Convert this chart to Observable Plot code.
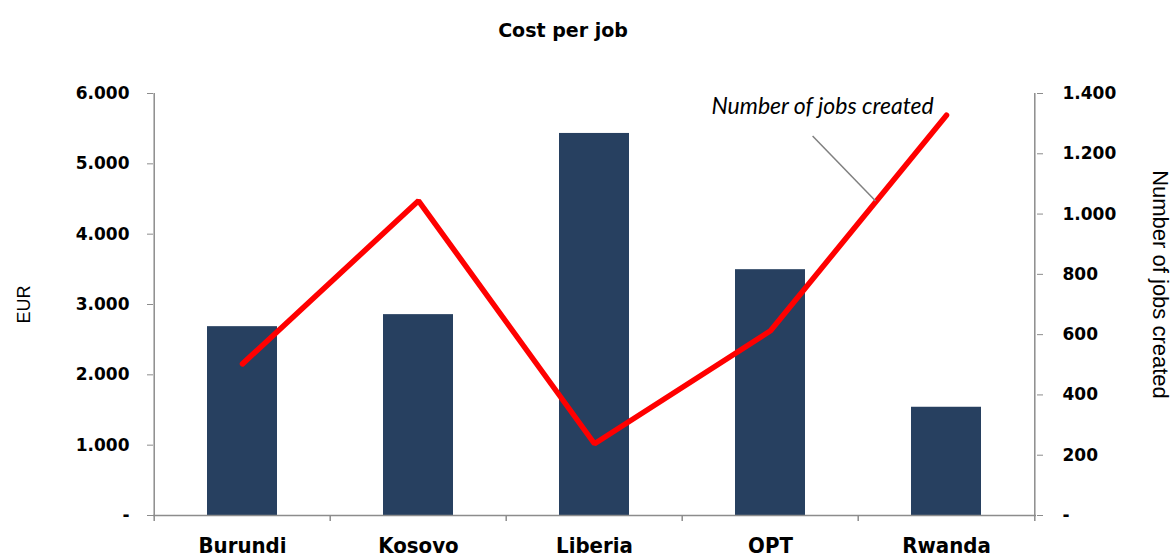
<!DOCTYPE html>
<html><head><meta charset="utf-8">
<script src="https://cdn.jsdelivr.net/npm/d3@7"></script>
<script src="https://cdn.jsdelivr.net/npm/@observablehq/plot@0.6"></script>
<style>body{margin:0;background:#fff;} #chart svg{display:block;}</style>
</head><body><div id="chart"></div>
<script>
const countries = ["Burundi", "Kosovo", "Liberia", "OPT", "Rwanda"];
const costPerJob = [2685, 2856, 5432, 3495, 1539];
const jobsCreated = [503, 1044, 238, 613, 1328];
const eurTicks = [0, 1000, 2000, 3000, 4000, 5000, 6000];
const jobTicks = [0, 200, 400, 600, 800, 1000, 1200, 1400];
const eurMax = 6000, jobsMax = 1400;
const titleText = "Cost per job";
const leftLabel = "EUR";
const rightLabel = "Number of jobs created";
const lineLabel = "Number of jobs created";

const k = eurMax / jobsMax;
const data = countries.map((c, i) => ({country: c, cost: costPerJob[i], jobs: jobsCreated[i], jobsScaled: jobsCreated[i] * k}));

const loc = d3.formatLocale({decimal: ",", thousands: ".", grouping: [3], currency: ["", ""]});
const f = loc.format(",.0f");
const fmt = v => Math.round(v) === 0 ? "-" : f(Math.round(v));

const gray = "#8c8c8c";
const W = 1176, H = 558;
const mL = 153, mR = 140, mT = 93, mB = 43;
const step = (W - mL - mR) / countries.length;
const tickLen = 6 * eurMax / (H - mT - mB);

const annotate = (index, scales) => {
  const x = scales.x, y = scales.y;
  const bw = typeof x.bandwidth === "function" ? x.bandwidth() / 2 : (x.bandwidth || 0) / 2;
  const i1 = countries.indexOf("OPT"), i2 = countries.indexOf("Rwanda");
  const x1 = x(countries[i1]) + bw, y1 = y(jobsCreated[i1] * k);
  const x2 = x(countries[i2]) + bw, y2 = y(jobsCreated[i2] * k);
  const t = 0.6;
  const px = x1 + t * (x2 - x1), py = y1 + t * (y2 - y1);
  const g = document.createElementNS("http://www.w3.org/2000/svg", "g");
  const ln = document.createElementNS("http://www.w3.org/2000/svg", "line");
  ln.setAttribute("x1", px - 63); ln.setAttribute("y1", py - 65);
  ln.setAttribute("x2", px); ln.setAttribute("y2", py);
  ln.setAttribute("stroke", "#808080"); ln.setAttribute("stroke-width", 1.5);
  g.appendChild(ln);
  const tx = document.createElementNS("http://www.w3.org/2000/svg", "text");
  tx.setAttribute("x", px - 53); tx.setAttribute("y", py - 87);
  tx.setAttribute("text-anchor", "middle");
  tx.setAttribute("font-family", "Lato, 'Open Sans', sans-serif");
  tx.setAttribute("font-style", "italic");
  tx.setAttribute("font-size", 23);
  tx.setAttribute("fill", "#000");
  tx.textContent = lineLabel;
  g.appendChild(tx);
  return g;
};

const chart = Plot.plot({
  width: W, height: H,
  marginLeft: mL, marginRight: mR, marginTop: mT, marginBottom: mB,
  style: {fontFamily: "'DejaVu Sans', sans-serif", background: "#fff", color: "#000"},
  x: {domain: countries, paddingInner: 0.6, paddingOuter: 0.3},
  y: {domain: [0, eurMax]},
  marks: [
    Plot.barY(data, {x: "country", y: "cost", fill: "#274060"}),
    Plot.ruleY([0], {stroke: gray, strokeWidth: 1.5}),
    Plot.ruleX([countries[0]], {dx: -step / 2, y1: eurMax, y2: -tickLen, stroke: gray, strokeWidth: 1.5}),
    Plot.ruleX([countries[countries.length - 1]], {dx: step / 2, y1: eurMax, y2: -tickLen, stroke: gray, strokeWidth: 1.5}),
    Plot.ruleX(countries.slice(1), {dx: -step / 2, y1: 0, y2: -tickLen, stroke: gray, strokeWidth: 1.5}),
    Plot.axisY(eurTicks, {anchor: "left", tickSize: 6, tickPadding: 18, stroke: gray, color: "#000", fill: "#000",
      tickFormat: fmt, fontSize: 17, fontWeight: "bold", label: null}),
    Plot.axisY(jobTicks.map(v => v * k), {anchor: "right", tickSize: 6, tickPadding: 20, stroke: gray, color: "#000", fill: "#000",
      tickFormat: v => fmt(v / k), fontSize: 17, fontWeight: "bold", label: null}),
    Plot.axisX({tickSize: 0, tickPadding: 22, fontSize: 22, fontWeight: "bold", label: null,
      fontFamily: "'Liberation Sans Narrow', 'DejaVu Sans Condensed', sans-serif"}),
    Plot.line(data, {x: "country", y: "jobsScaled", stroke: "#ff0000", strokeWidth: 5.5, strokeLinecap: "round", strokeLinejoin: "miter"}),
    Plot.text([titleText], {frameAnchor: "top", dx: -32, dy: -70, fontSize: 19, fontWeight: "bold", fill: "#000"}),
    Plot.text([leftLabel], {frameAnchor: "left", textAnchor: "middle", dx: -129, rotate: -90, fontSize: 18, fontFamily: "'Liberation Sans', sans-serif", fill: "#000"}),
    Plot.text([rightLabel], {frameAnchor: "right", textAnchor: "middle", dx: 124, dy: -20, rotate: 90, fontSize: 22, fontFamily: "'Liberation Sans', sans-serif", fill: "#000"}),
    annotate
  ]
});
document.getElementById("chart").appendChild(chart);
</script>
</body></html>
